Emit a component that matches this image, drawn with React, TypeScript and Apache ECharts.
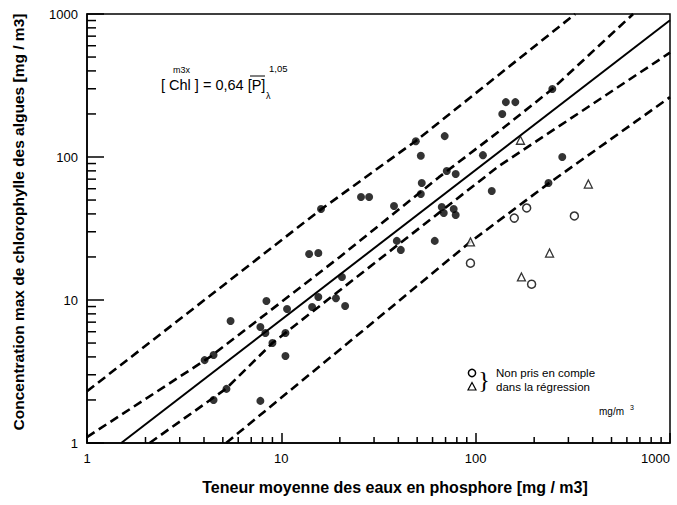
import React, { useEffect, useRef } from "react";
import * as echarts from "echarts";

// ---- Data ----
// Lakes used in the regression (filled dots): phosphorus P [mg/m3], chlorophyll max [mg/m3]
const includedP = [4.03, 4.48, 4.48, 5.22, 5.48, 7.8, 7.8, 8.28, 8.38, 9.0, 10.5, 10.5, 10.7, 14.4, 15.5, 19.1, 21.3, 13.9, 15.5, 16.0, 20.5, 25.7, 28.3, 38.0, 49.2, 52.2, 52.8, 52.2, 69.3, 71.0, 78.9, 66.9, 77.1, 68.5, 78.9, 109, 121, 39.3, 41.2, 61.6, 137, 143, 160, 248, 279, 237];
const includedChl = [3.8, 4.12, 2.0, 2.39, 7.13, 6.48, 1.97, 5.88, 9.84, 5.0, 5.88, 4.06, 8.65, 8.93, 10.5, 10.3, 9.08, 21.0, 21.3, 43.3, 14.5, 52.5, 52.5, 45.4, 129, 102, 65.8, 55.1, 140, 79.8, 76.0, 44.7, 43.3, 40.6, 39.3, 103, 57.8, 25.9, 22.4, 25.9, 200, 242, 242, 299, 100, 65.8];

// Not taken into account in the regression
const circleP = [94, 158, 183, 322, 194];
const circleChl = [18.1, 37.4, 44, 38.7, 12.9];
const triangleP = [94, 170, 380, 240, 172];
const triangleChl = [25.5, 131, 64.7, 21.3, 14.5];

// Regression line and bands
const regressionP = [1.5, 1000];
const regressionChl = [1, 904];
const innerUpperP = [1, 4.3, 20, 64.5, 131, 248, 646];
const innerUpperChl = [1.1, 4.0, 20, 72, 150, 299, 1000];
const innerLowerP = [2.1, 5.2, 9, 30, 131, 400, 1000];
const innerLowerChl = [1, 2.4, 5, 18, 86, 235, 537];
const outerUpperP = [1, 16, 49, 325];
const outerUpperChl = [2.3, 43, 129, 1000];
const outerLowerP = [5.2, 22, 94, 240, 662, 1000];
const outerLowerChl = [1, 5, 25.5, 66, 176, 262];

// Axis ticks
const decadeTicks = [1, 10, 100, 1000];
const minorTicks = [2, 3, 4, 5, 6, 7, 8, 9, 20, 30, 40, 50, 60, 70, 80, 90, 200, 300, 400, 500, 600, 700, 800, 900];

const FONT = "'Liberation Sans', Arial, sans-serif";

const zip = (a: number[], b: number[]) => a.map((v, i) => [v, b[i]]);

const dashedLine = (name: string, p: number[], c: number[]) => ({
  name,
  type: "line",
  data: zip(p, c),
  symbol: "none",
  silent: true,
  clip: true,
  lineStyle: { color: "#000", width: 2.6, type: [9, 5] },
  z: 2,
});

export default function App() {
  const ref = useRef<HTMLDivElement>(null);
  useEffect(() => {
    if (!ref.current) return;
    const chart = echarts.init(ref.current, undefined, { renderer: "svg" });
    const option = {
      animation: false,
      backgroundColor: "#fff",
      grid: {
        left: 87,
        right: 7,
        top: 14,
        bottom: 62,
        show: true,
        borderColor: "#000",
        borderWidth: 1.5,
        outerBoundsMode: "none",
        containLabel: false,
      },
      xAxis: {
        type: "log",
        logBase: 10,
        min: decadeTicks[0],
        max: decadeTicks[3],
        axisLine: { show: true, lineStyle: { color: "#000", width: 1.5 } },
        axisTick: { show: true, inside: true, length: 10, lineStyle: { color: "#000", width: 1.5 } },
        axisLabel: {
          color: "#000",
          fontSize: 13,
          fontFamily: FONT,
          margin: 9,
          alignMaxLabel: "right",
          formatter: (v: number) => String(Math.round(v)),
          rich: {},
        },
        splitLine: { show: false },
      },
      yAxis: {
        type: "log",
        logBase: 10,
        min: decadeTicks[0],
        max: decadeTicks[3],
        axisLine: { show: true, lineStyle: { color: "#000", width: 1.5 } },
        axisTick: { show: true, inside: true, length: 17, lineStyle: { color: "#000", width: 1.5 } },
        axisLabel: { color: "#000", fontSize: 13, fontFamily: FONT, margin: 9, formatter: (v: number) => String(Math.round(v)) },
        splitLine: { show: false },
      },
      series: [
        {
          name: "minorX",
          type: "custom",
          coordinateSystem: "cartesian2d",
          silent: true,
          data: minorTicks.map((v) => [v, decadeTicks[0]]),
          renderItem: (_p: any, api: any) => {
            const pt = api.coord([api.value(0), api.value(1)]);
            return { type: "line", shape: { x1: pt[0], y1: pt[1], x2: pt[0], y2: pt[1] - 6 }, style: { stroke: "#000", lineWidth: 1.5 } };
          },
          z: 3,
        },
        {
          name: "minorY",
          type: "custom",
          coordinateSystem: "cartesian2d",
          silent: true,
          data: minorTicks.map((v) => [decadeTicks[0], v]),
          renderItem: (_p: any, api: any) => {
            const pt = api.coord([api.value(0), api.value(1)]);
            return { type: "line", shape: { x1: pt[0], y1: pt[1], x2: pt[0] + 9, y2: pt[1] }, style: { stroke: "#000", lineWidth: 1.5 } };
          },
          z: 3,
        },
        dashedLine("outerUpper", outerUpperP, outerUpperChl),
        dashedLine("innerUpper", innerUpperP, innerUpperChl),
        dashedLine("innerLower", innerLowerP, innerLowerChl),
        dashedLine("outerLower", outerLowerP, outerLowerChl),
        {
          name: "regression",
          type: "line",
          data: zip(regressionP, regressionChl),
          symbol: "none",
          silent: true,
          lineStyle: { color: "#000", width: 2 },
          z: 2,
        },
        {
          name: "included",
          type: "scatter",
          data: zip(includedP, includedChl),
          symbol: "circle",
          symbolSize: 8,
          itemStyle: { color: "#000" },
          z: 4,
        },
        {
          name: "excludedCircle",
          type: "scatter",
          data: zip(circleP, circleChl),
          symbol: "circle",
          symbolSize: 8,
          itemStyle: { color: "#fff", borderColor: "#000", borderWidth: 1.5 },
          z: 4,
        },
        {
          name: "excludedTriangle",
          type: "scatter",
          data: zip(triangleP, triangleChl),
          symbol: "triangle",
          symbolSize: 8,
          itemStyle: { color: "#fff", borderColor: "#000", borderWidth: 1.3 },
          z: 4,
        },
      ],
      graphic: [
        // axis titles
        {
          type: "text",
          x: 395,
          y: 487,
          style: { text: "Teneur moyenne des eaux en phosphore [mg / m3]", font: `bold 16px ${FONT}`, fill: "#000", textAlign: "center", textVerticalAlign: "middle" },
        },
        {
          type: "text",
          x: 18,
          y: 222,
          rotation: Math.PI / 2,
          style: { text: "Concentration max de chlorophylle des algues [mg / m3]", font: `bold 15.5px ${FONT}`, fill: "#000", textAlign: "center", textVerticalAlign: "middle" },
        },
        // equation
        { type: "text", x: 173, y: 70, style: { text: "m3x", font: `9px ${FONT}`, fill: "#000", textVerticalAlign: "middle" } },
        { type: "text", x: 161, y: 85, style: { text: "[ Chl ] = 0,64 [P]", font: `14.5px ${FONT}`, fill: "#000", textVerticalAlign: "middle" } },
        { type: "line", shape: { x1: 250, y1: 76, x2: 265, y2: 76 }, style: { stroke: "#000", lineWidth: 1 } },
        { type: "text", x: 269, y: 68, style: { text: "1,05", font: `9.5px ${FONT}`, fill: "#000", textVerticalAlign: "middle" } },
        { type: "text", x: 266, y: 96, style: { text: "λ", font: `9px ${FONT}`, fill: "#000", textVerticalAlign: "middle" } },
        // legend
        { type: "circle", shape: { cx: 472, cy: 373, r: 3.6 }, style: { fill: "#fff", stroke: "#000", lineWidth: 1.5 } },
        { type: "polygon", shape: { points: [[468, 390], [476, 390], [472, 382.5]] }, style: { fill: "#fff", stroke: "#000", lineWidth: 1.2 } },
        { type: "text", x: 484, y: 380, style: { text: "}", font: `24px 'Liberation Serif', serif`, fill: "#000", textAlign: "center", textVerticalAlign: "middle" } },
        { type: "text", x: 496, y: 373, style: { text: "Non pris en comple", font: `11.5px ${FONT}`, fill: "#000", textVerticalAlign: "middle" } },
        { type: "text", x: 496, y: 387, style: { text: "dans la régression", font: `11.5px ${FONT}`, fill: "#000", textVerticalAlign: "middle" } },
        { type: "text", x: 599, y: 411, style: { text: "mg/m", font: `10px ${FONT}`, fill: "#000", textVerticalAlign: "middle" } },
        { type: "text", x: 630, y: 407, style: { text: "3", font: `7px ${FONT}`, fill: "#000", textVerticalAlign: "middle" } },
      ],
    };
    chart.setOption(option as any);
    return () => chart.dispose();
  }, []);
  return <div ref={ref} style={{ width: 677, height: 505, position: "absolute", left: 0, top: 0 }} />;
}
